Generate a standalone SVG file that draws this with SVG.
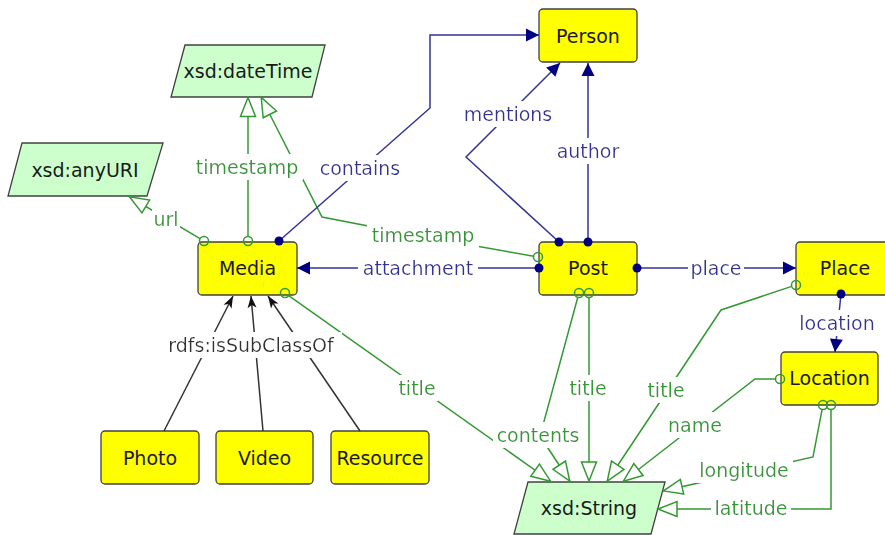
<svg xmlns="http://www.w3.org/2000/svg" width="885" height="535" viewBox="0 0 885 535">
<style>
text{font-family:"DejaVu Sans","Liberation Sans",sans-serif;font-size:19px;text-anchor:middle}
.cls{fill:#ffff00;stroke:#404040;stroke-width:1.3}
.dt{fill:#ccffcc;stroke:#404040;stroke-width:1.3}
.nt{fill:#1a1a1a}
.dp{fill:none;stroke:#339933;stroke-width:1.5;marker-end:url(#hollow)}
.oc{fill:none;stroke:#339933;stroke-width:1.5}
.op{fill:none;stroke:#333399;stroke-width:1.5;marker-end:url(#navy)}
.dot{fill:#000080}
.sub{fill:none;stroke:#333333;stroke-width:1.5;marker-end:url(#stealth)}
.gl{fill:#339933;filter:url(#lbl)}
.bl{fill:#333399;filter:url(#lbl)}
.kl{fill:#333333;filter:url(#lbl)}
</style>
<defs>
<filter id="lbl" x="-0.04" y="-0.08" width="1.08" height="1.16">
<feFlood flood-color="#ffffff" result="bg"/>
<feComposite in="SourceGraphic" in2="bg" operator="over"/>
</filter>
<marker id="hollow" markerUnits="userSpaceOnUse" markerWidth="22" markerHeight="18" refX="19.5" refY="7.5" orient="auto" overflow="visible">
<path d="M0,0 L19,7.5 L0,15 Z" fill="#ffffff" stroke="#339933" stroke-width="1.5"/>
</marker>
<marker id="navy" markerUnits="userSpaceOnUse" markerWidth="14" markerHeight="14" refX="13" refY="6.5" orient="auto" overflow="visible">
<path d="M0,0 L13,6.5 L0,13 Z" fill="#000080"/>
</marker>
<marker id="stealth" markerUnits="userSpaceOnUse" markerWidth="13" markerHeight="10" refX="12" refY="4.5" orient="auto" overflow="visible">
<path d="M0,0 L12,4.5 L0,9 L3,4.5 Z" fill="#111111"/>
</marker>
</defs>
<rect width="885" height="535" fill="#ffffff"/>

<g id="node-person"><rect class="cls" x="539" y="9" width="98" height="53" rx="4"/><text class="nt" x="588" y="43">Person</text></g>
<g id="node-media"><rect class="cls" x="198" y="242" width="99" height="53" rx="4"/><text class="nt" x="247.5" y="275">Media</text></g>
<g id="node-post"><rect class="cls" x="539" y="242" width="98" height="53" rx="4"/><text class="nt" x="588" y="275">Post</text></g>
<g id="node-place"><rect class="cls" x="796" y="242" width="98" height="53" rx="4"/><text class="nt" x="845" y="275">Place</text></g>
<g id="node-location"><rect class="cls" x="781" y="352" width="97" height="53" rx="4"/><text class="nt" x="829.5" y="385">Location</text></g>
<g id="node-photo"><rect class="cls" x="101" y="431" width="98" height="53" rx="4"/><text class="nt" x="150" y="465">Photo</text></g>
<g id="node-video"><rect class="cls" x="216" y="431" width="97" height="53" rx="4"/><text class="nt" x="264.5" y="465">Video</text></g>
<g id="node-resource"><rect class="cls" x="331" y="431" width="98" height="53" rx="4"/><text class="nt" x="380" y="465">Resource</text></g>
<g id="node-datetime"><polygon class="dt" points="185,45 325,45 312,97 171,97"/><text class="nt" x="248" y="78">xsd:dateTime</text></g>
<g id="node-anyuri"><polygon class="dt" points="22,143 163,143 147,196 8,196"/><text class="nt" x="85" y="177">xsd:anyURI</text></g>
<g id="node-string"><polygon class="dt" points="528,482 665,482 651,534 514,534"/><text class="nt" x="589" y="515">xsd:String</text></g>

<g id="connectors">
<path class="dp" d="M200,238.7 L129,196.5"/>
<path class="dp" d="M248,236.5 L248,97"/>
<path class="dp" d="M533.6,256.2 L425,237 L322,217 L261,97"/>
<path class="dp" d="M288.7,295.6 L551,481.5"/>
<path class="dp" d="M577.8,297.3 L540,436 L570,481.5"/>
<path class="dp" d="M589,297.5 L589,481.5"/>
<path class="dp" d="M791.7,286.4 L721,310 L607,481.5"/>
<path class="dp" d="M775.5,379 L755,379 L623,481.5"/>
<path class="dp" d="M822.1,409.4 L813,457 L663,491"/>
<path class="dp" d="M831,409.5 L831,509 L657.5,509"/>
<circle class="oc" cx="204" cy="241" r="4.5"/>
<circle class="oc" cx="248" cy="241" r="4.5"/>
<circle class="oc" cx="538" cy="257" r="4.5"/>
<circle class="oc" cx="285" cy="293" r="4.5"/>
<circle class="oc" cx="579" cy="293" r="4.5"/>
<circle class="oc" cx="589" cy="293" r="4.5"/>
<circle class="oc" cx="796" cy="285" r="4.5"/>
<circle class="oc" cx="780" cy="379" r="4.5"/>
<circle class="oc" cx="823" cy="405" r="4.5"/>
<circle class="oc" cx="831" cy="405" r="4.5"/>
<path class="op" d="M279,241 L430,108 L430,35 L539,35"/>
<path class="op" d="M559,242 L466,157 L560,63"/>
<path class="op" d="M588,242 L588,63"/>
<path class="op" d="M539,268 L297,268"/>
<path class="op" d="M637,268 L796,268"/>
<path class="op" d="M841,294 L835,352"/>
<circle class="dot" cx="279" cy="241" r="4.5"/>
<circle class="dot" cx="559" cy="242" r="4.5"/>
<circle class="dot" cx="588" cy="242" r="4.5"/>
<circle class="dot" cx="539" cy="268" r="4.5"/>
<circle class="dot" cx="637" cy="268" r="4.5"/>
<circle class="dot" cx="841" cy="294" r="4.5"/>
<path class="sub" d="M164,431 L233,296"/>
<path class="sub" d="M263,431 L251,296"/>
<path class="sub" d="M360,431 L268,296"/>
<text class="gl" x="166" y="226">url</text>
<text class="gl" x="247" y="174">timestamp</text>
<text class="gl" x="423" y="242">timestamp</text>
<text class="gl" x="417" y="395">title</text>
<text class="gl" x="538" y="442">contents</text>
<text class="gl" x="588" y="395">title</text>
<text class="gl" x="666" y="397">title</text>
<text class="gl" x="695" y="432">name</text>
<text class="gl" x="744" y="477">longitude</text>
<text class="gl" x="751" y="515">latitude</text>
<text class="bl" x="360" y="175">contains</text>
<text class="bl" x="508" y="121">mentions</text>
<text class="bl" x="588" y="158">author</text>
<text class="bl" x="418" y="275">attachment</text>
<text class="bl" x="716" y="275">place</text>
<text class="bl" x="837" y="330">location</text>
<text class="kl" x="251" y="352">rdfs:isSubClassOf</text>
</g>
</svg>
